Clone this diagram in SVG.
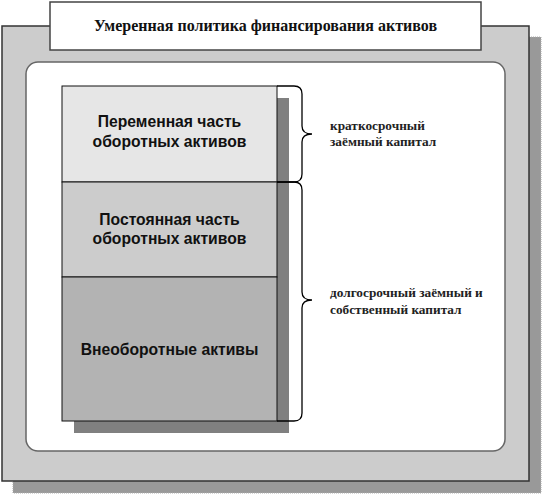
<svg xmlns="http://www.w3.org/2000/svg" width="543" height="495" viewBox="0 0 543 495">
<style>
.title{font-family:"Liberation Serif","Times New Roman",serif;font-weight:bold;font-size:16px;fill:#111}
.lbl{font-family:"Liberation Sans",Arial,sans-serif;font-weight:bold;font-size:15.7px;fill:#111;text-anchor:middle}
.side{font-family:"Liberation Serif","Times New Roman",serif;font-weight:bold;font-size:13.3px;fill:#222}
.brace{fill:none;stroke:#000;stroke-width:1.3}
</style>
<g id="frame">
<rect x="13" y="37" width="528" height="456" fill="#999999" stroke="#aaa" stroke-width="1" stroke-dasharray="1,1"/>
<rect x="2" y="26" width="527" height="455" fill="#cccccc" stroke="#333" stroke-width="1.5"/>
<rect x="26" y="62" width="479" height="389" rx="12" fill="#ffffff" stroke="#666" stroke-width="1.5"/>
</g>
<g id="title">
<rect x="50" y="2" width="431" height="48" fill="#ffffff" stroke="#444" stroke-width="1.5"/>
<text class="title" x="265.5" y="31" text-anchor="middle">Умеренная политика финансирования активов</text>
</g>
<g id="stack-shadow">
<rect x="74" y="98" width="215" height="335" fill="#808080"/>
</g>
<g id="variable">
<rect x="62" y="86" width="215" height="96" fill="#e6e6e6" stroke="#111" stroke-width="1"/>
<text class="lbl" x="169.5" y="127">Переменная часть</text>
<text class="lbl" x="169.5" y="147">оборотных активов</text>
</g>
<g id="permanent">
<rect x="62" y="182" width="215" height="95" fill="#cccccc" stroke="#111" stroke-width="1"/>
<text class="lbl" x="169.5" y="225">Постоянная часть</text>
<text class="lbl" x="169.5" y="244">оборотных активов</text>
</g>
<g id="noncurrent">
<rect x="62" y="277" width="215" height="144" fill="#b3b3b3" stroke="#111" stroke-width="1"/>
<text class="lbl" x="169.5" y="355">Внеоборотные активы</text>
</g>
<g id="connectors">
<path class="brace" d="M277,86 H294 Q302,86 302,94 V126 Q302,134 312,134 Q302,134 302,142 V174 Q302,182 294,182 H277"/>
<path class="brace" d="M277,182 H294 Q302,182 302,190 V292 Q302,300 312,300 Q302,300 302,308 V413 Q302,421 294,421 H277"/>
</g>
<g id="short-term">
<text class="side" x="330" y="130">краткосрочный</text>
<text class="side" x="330" y="146">заёмный капитал</text>
</g>
<g id="long-term">
<text class="side" x="330" y="297">долгосрочный заёмный и</text>
<text class="side" x="330" y="314">собственный капитал</text>
</g>
</svg>
